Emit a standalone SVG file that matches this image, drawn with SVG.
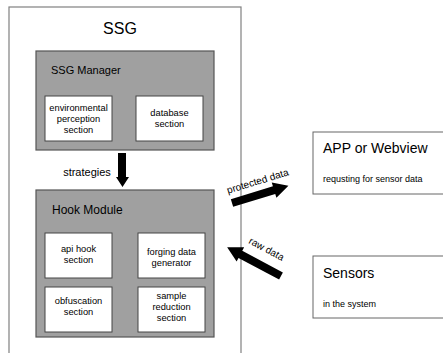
<svg xmlns="http://www.w3.org/2000/svg" width="443" height="353" viewBox="0 0 443 353">
<style>
text{font-family:"Liberation Sans",Arial,sans-serif;fill:#000}
.outer{fill:#fff;stroke:#808080;stroke-width:1.2}
.mod{fill:#a0a0a0;stroke:#555;stroke-width:1.2}
.sec{fill:#fff;stroke:#444;stroke-width:1}
.ext{fill:#fff;stroke:#666;stroke-width:1}
.s{font-size:9.3px;text-anchor:middle}
.arr{fill:#000}
</style>
<rect width="443" height="353" fill="#fff"/>
<g id="ssg">
<rect class="outer" x="9" y="7" width="232" height="360"/>
<text x="120" y="34" font-size="16" text-anchor="middle">SSG</text>
</g>
<g id="ssg-manager">
<rect class="mod" x="36" y="51" width="178" height="99"/>
<text x="51" y="74" font-size="11">SSG Manager</text>
</g>
<g id="env">
<rect class="sec" x="45" y="96" width="67" height="45"/>
<text class="s" x="78.5" y="111">environmental</text>
<text class="s" x="78.5" y="122">perception</text>
<text class="s" x="78.5" y="133">section</text>
</g>
<g id="db">
<rect class="sec" x="136" y="96" width="67" height="45"/>
<text class="s" x="169.5" y="116">database</text>
<text class="s" x="169.5" y="127">section</text>
</g>
<g id="hook">
<rect class="mod" x="36" y="190" width="178" height="147"/>
<text x="52" y="214" font-size="12">Hook Module</text>
</g>
<g id="api">
<rect class="sec" x="45" y="233" width="67" height="45"/>
<text class="s" x="78.5" y="252">api hook</text>
<text class="s" x="78.5" y="263">section</text>
</g>
<g id="forging">
<rect class="sec" x="138" y="233" width="67" height="45"/>
<text class="s" x="171.5" y="255">forging data</text>
<text class="s" x="171.5" y="266">generator</text>
</g>
<g id="obf">
<rect class="sec" x="45" y="287" width="67" height="45"/>
<text class="s" x="78.5" y="304">obfuscation</text>
<text class="s" x="78.5" y="315">section</text>
</g>
<g id="sample">
<rect class="sec" x="138" y="287" width="67" height="45"/>
<text class="s" x="171.5" y="299">sample</text>
<text class="s" x="171.5" y="310">reduction</text>
<text class="s" x="171.5" y="321">section</text>
</g>
<g id="app">
<rect class="ext" x="313" y="132" width="140" height="62"/>
<text x="323" y="153" font-size="14">APP or Webview</text>
<text x="323" y="182" font-size="9">requsting for sensor data</text>
</g>
<g id="sensors">
<rect class="ext" x="313" y="256" width="140" height="62"/>
<text x="323" y="278" font-size="14">Sensors</text>
<text x="323" y="307" font-size="9">in the system</text>
</g>
<g id="connectors">
<polygon class="arr" points="118,153 126,153 126,177 129,177 122.5,187 116,177 118,177"/>
<text x="87" y="176" font-size="11" text-anchor="middle">strategies</text>
<g transform="translate(232,203) rotate(-17)">
<polygon class="arr" points="0,-4 44,-4 44,-8 59,0 44,8 44,4 0,4"/>
<text x="-1" y="-10" font-size="10">protected data</text>
</g>
<g transform="translate(281,276) rotate(208)">
<polygon class="arr" points="0,-4 46,-4 46,-8 61,0 46,8 46,4 0,4"/>
</g>
<text x="248" y="243" font-size="10" transform="rotate(28 248 243)">raw data</text>
</g>
</svg>
